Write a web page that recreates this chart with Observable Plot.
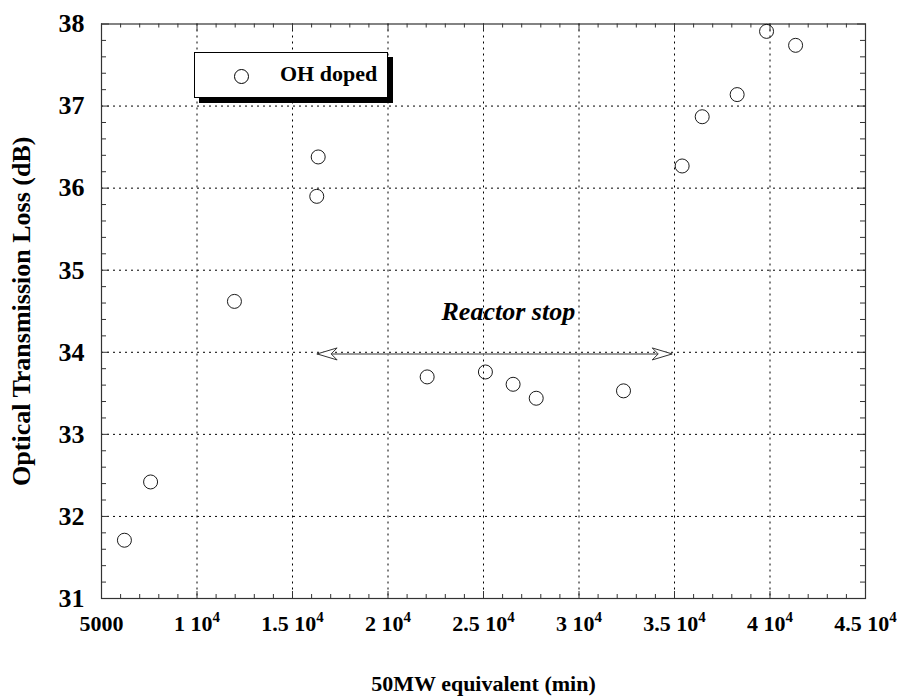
<!DOCTYPE html>
<html>
<head>
<meta charset="utf-8">
<script src="https://cdn.jsdelivr.net/npm/d3@7"></script>
<script src="https://cdn.jsdelivr.net/npm/@observablehq/plot@0.6"></script>
<style>
  html, body { margin: 0; padding: 0; background: #fff; }
  #wrap { position: relative; width: 897px; height: 698px; }
  #legend {
    position: absolute; left: 194px; top: 52px; width: 192px; height: 44px;
    border: 1.6px solid #000; background: #fff; box-shadow: 5px 5px 0 #000;
    font-family: "Liberation Serif", serif; font-weight: bold; font-size: 22px;
  }
  #legend .sym {
    position: absolute; left: 39px; top: 16px; width: 13px; height: 13px;
    border: 1px solid #000; border-radius: 50%;
  }
  #legend .lab { position: absolute; left: 85px; top: 8px; }
</style>
</head>
<body>
<div id="wrap"><div id="legend"><span class="sym"></span><span class="lab">OH doped</span></div></div>
<script>
// ---- data ----
const exposure = [6200, 7570, 11960, 16345, 16270, 22050, 25100, 26550, 27760, 32330, 35400, 36450, 38280, 39820, 41340];
const loss     = [31.71, 32.42, 34.62, 36.38, 35.90, 33.70, 33.76, 33.61, 33.44, 33.53, 36.27, 36.87, 37.14, 37.91, 37.74];
const seriesName = "OH doped";

const xTickValues = [5000, 10000, 15000, 20000, 25000, 30000, 35000, 40000, 45000];
const yTickValues = [31, 32, 33, 34, 35, 36, 37, 38];
const xTitle = "50MW equivalent (min)";
const yTitle = "Optical Transmission Loss (dB)";

const annotationText = ["Reactor stop"];
const annotationX = [26300];
const annotationY = [34.5];
const arrowFrom = [16290];
const arrowTo = [34880];
const arrowY = [33.98];

// ---- build ----
const points = exposure.map((x, i) => ({x, y: loss[i]}));
const xMinor = d3.range(5000, 45001, 1000).filter(v => v % 5000 !== 0);
const yMinor = d3.range(31, 38.001, 0.2).map(v => Math.round(v * 10) / 10).filter(v => Math.abs(v - Math.round(v)) > 1e-6);
const xGrid = xTickValues.slice(1, -1);
const yGrid = yTickValues.slice(1, -1);

const W = 897, H = 698, mt = 23.5, mb = 100, ml = 101, mr = 32;
const innerH = H - mt - mb, innerW = W - ml - mr;
const fmtX = d => d === 5000 ? "5000" : `${d / 1e4} 10^4`;

// open, notched arrowhead with its tip at the origin, pointing left
const arrowHead = {
  draw(ctx) {
    ctx.moveTo(0, 0);
    ctx.lineTo(20, -6);
    ctx.lineTo(14, 0);
    ctx.lineTo(20, 6);
    ctx.closePath();
  }
};
const heads = arrowFrom.map((a, i) => [
  {x: a, y: arrowY[i], rot: 0},
  {x: arrowTo[i], y: arrowY[i], rot: 180}
]).flat();
const shafts = arrowFrom.map((a, i) => ({x1: a, x2: arrowTo[i], y: arrowY[i]}));

const chart = Plot.plot({
  width: W, height: H,
  marginTop: mt, marginBottom: mb, marginLeft: ml, marginRight: mr,
  style: {fontFamily: "'Liberation Serif', 'Times New Roman', serif", fontWeight: "bold", fontSize: "22px", background: "transparent", color: "#000"},
  x: {domain: [5000, 45000]},
  y: {domain: [31, 38]},
  marks: [
    Plot.gridX(xGrid, {stroke: "#000", strokeOpacity: 1, strokeWidth: 1, strokeDasharray: "2,4"}),
    Plot.gridY(yGrid, {stroke: "#000", strokeOpacity: 1, strokeWidth: 1, strokeDasharray: "2,4"}),
    Plot.frame({stroke: "#333", strokeWidth: 1.2}),
    // minor ticks (inward)
    Plot.tickX(xMinor, {x: d => d, insetTop: innerH - 4, stroke: "#333"}),
    Plot.tickX(xMinor, {x: d => d, insetBottom: innerH - 4, stroke: "#333"}),
    Plot.tickY(yMinor, {y: d => d, insetRight: innerW - 5, stroke: "#333"}),
    Plot.tickY(yMinor, {y: d => d, insetLeft: innerW - 5, stroke: "#333"}),
    // major ticks (inward)
    Plot.tickX(xTickValues, {x: d => d, insetTop: innerH - 7, stroke: "#333"}),
    Plot.tickX(xTickValues, {x: d => d, insetBottom: innerH - 7, stroke: "#333"}),
    Plot.tickY(yTickValues, {y: d => d, insetRight: innerW - 8, stroke: "#333"}),
    Plot.tickY(yTickValues, {y: d => d, insetLeft: innerW - 8, stroke: "#333"}),
    Plot.axisX({ticks: xTickValues, tickFormat: fmtX, tickSize: 0, tickPadding: 17, fontSize: 22,
      label: xTitle, labelAnchor: "center", labelArrow: "none", labelOffset: 92}),
    Plot.axisY({ticks: yTickValues, tickFormat: d => String(d), tickSize: 0, tickPadding: 17, fontSize: 26,
      label: yTitle, labelAnchor: "center", labelArrow: "none", labelOffset: 90}),
    Plot.ruleY(shafts, {x1: "x1", x2: "x2", y: "y", stroke: "#777", strokeWidth: 1.6}),
    Plot.dot(heads, {x: "x", y: "y", symbol: arrowHead, rotate: "rot", fill: "#fff", stroke: "#333", strokeWidth: 1}),
    Plot.text(annotationText, {x: (d, i) => annotationX[i], y: (d, i) => annotationY[i], fontSize: 26, fontStyle: "italic", fontWeight: "bold", fill: "#000"}),
    Plot.dot(points, {x: "x", y: "y", r: 7, stroke: "#000", strokeWidth: 0.9, fill: "none", title: () => seriesName})
  ]
});

// turn "a 10^4" tick labels into a base with a raised superscript
chart.querySelectorAll("text").forEach(t => {
  const s = t.textContent;
  if (s.includes("^") && t.children.length === 0) {
    const [base, exp] = s.split("^");
    t.textContent = "";
    const b = document.createElementNS("http://www.w3.org/2000/svg", "tspan");
    b.textContent = base;
    const e = document.createElementNS("http://www.w3.org/2000/svg", "tspan");
    e.textContent = exp;
    e.setAttribute("dy", "-9");
    e.setAttribute("font-size", "15");
    t.appendChild(b);
    t.appendChild(e);
  }
});

document.getElementById("wrap").prepend(chart);
chart.style.position = "absolute";
chart.style.left = "0";
chart.style.top = "0";
</script>
</body>
</html>
